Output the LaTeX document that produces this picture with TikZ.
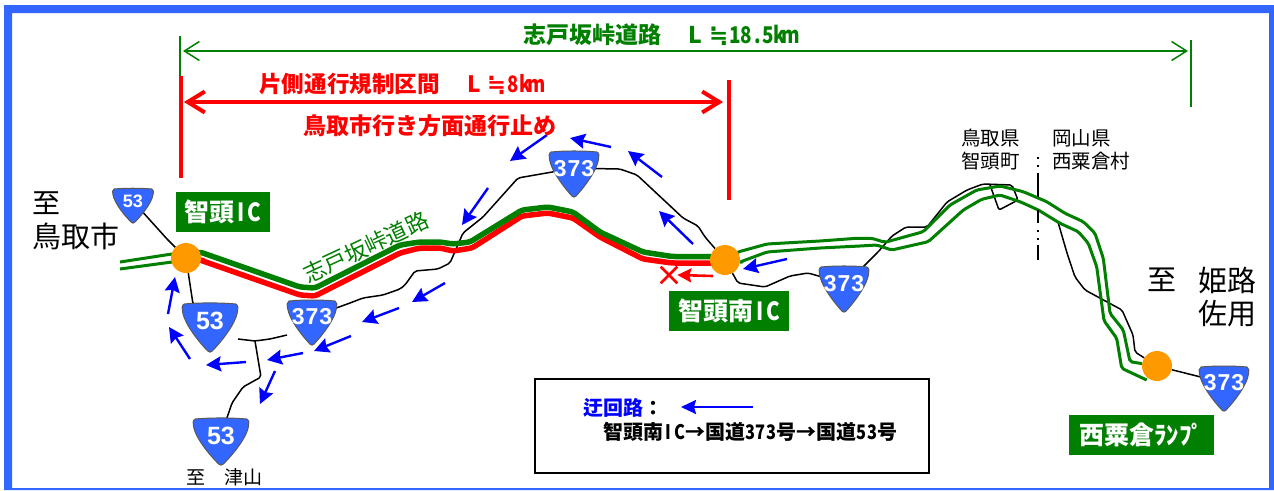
\documentclass[tikz,border=0pt]{standalone}
\usepackage{fontspec}
\setmainfont{Noto Sans CJK JP}
\newfontfamily\digitfont{Liberation Sans}
\newfontfamily\symfont{DejaVu Sans}
\usetikzlibrary{arrows.meta,shapes.misc}
\definecolor{framblue}{HTML}{3366FF}
\definecolor{roadgreen}{HTML}{007F00}
\definecolor{icorange}{HTML}{FF9900}
\pgfdeclarelayer{under}
\pgfsetlayers{under,main}
\newcommand\fs[1]{\fontsize{#1}{#1}\selectfont}
% half-width cell: width in pt, content
\newcommand\hc[2]{\makebox[#1pt]{\scalebox{.82}[1]{#2}}}
\newcommand\approxeq[1]{\makebox[#1pt]{\symfont ≒}}
\tikzset{
  blackroad/.style={draw=black,line width=1.5pt,line join=round,rounded corners=2pt},
  greenbig/.style={draw=roadgreen,line width=5.5pt,line join=round,rounded corners=3pt},
  redbig/.style={draw=red,line width=5.5pt,line join=round,rounded corners=3pt},
  greenthin/.style={draw=roadgreen,line width=3pt,line join=round,rounded corners=2pt},
  detourarrow/.style={draw=blue,line width=2.4pt,-{Stealth[length=15pt,width=15pt,inset=2pt]}},
  icdot/.style={circle,fill=icorange,minimum size=30pt,inner sep=0pt},
  icbox/.style={fill=roadgreen,text=white,font=\bfseries\fs{25},minimum height=40pt,inner sep=0pt},
  shieldtext/.style={text=white,inner sep=0pt},
  label/.style={inner sep=0pt,text=black},
}
% name, centre x, top y, width, height, font size, number
\newcommand\shield[7]{%
  \begin{scope}[shift={(#2,#3)},x=#4pt,y=-#5pt]
    \fill[framblue,draw=black!65,line width=1pt]
      (-.46,0) .. controls (-.2,-.03) and (.2,-.03) .. (.46,0)
      .. controls (.5,.02) and (.51,.1) .. (.49,.16)
      .. controls (.45,.45) and (.15,.85) .. (.04,.98)
      .. controls (.015,1.01) and (-.015,1.01) .. (-.04,.98)
      .. controls (-.15,.85) and (-.45,.45) .. (-.49,.16)
      .. controls (-.51,.1) and (-.5,.02) .. (-.46,0) -- cycle;
    \node[shieldtext,font=\digitfont\bfseries\fs{#6}] (#1) at (0,.36) {#7};
  \end{scope}}
\newcommand\detour[3]{%
  \coordinate (d#1a) at (#2);
  \coordinate (d#1b) at (#3);
  \draw[detourarrow] (d#1a) -- (d#1b);}
\begin{document}
\begin{tikzpicture}[x=1pt,y=-1pt]
\useasboundingbox (0,0) rectangle (1274,490);
\begin{pgfonlayer}{under}
\fill[white] (0,0) rectangle (1274,490);
\fill[framblue,even odd rule] (4,5) rectangle (1274,490) (12,13) rectangle (1269,488);
\end{pgfonlayer}

% interchanges
\node[icdot] (ic1) at (186,258) {};
\node[icdot] (ic2) at (725,260) {};
\node[icdot] (ic3) at (1157,366) {};

% route shields
\shield{s53a}{133}{189}{41}{34}{18}{53}
\shield{s53b}{210}{304}{56}{48}{25}{53}
\shield{s373a}{312}{301}{50}{44}{23}{3\kern1pt7\kern1pt3}
\shield{s53c}{221}{419}{56}{46}{25}{53}
\shield{s373b}{574}{152}{50}{45}{23}{3\kern1pt7\kern1pt3}
\shield{s373c}{844}{267}{50}{45}{23}{3\kern1pt7\kern1pt3}
\shield{s373d}{1224}{367}{50}{44}{23}{3\kern1pt7\kern1pt3}

\begin{pgfonlayer}{under}
% black roads
\draw[blackroad] (s53a) -- (167,239) -- (ic1);
\draw[blackroad] (ic1) -- (193,304) -- (s53b);
\coordinate (jn) at (255,341);
\coordinate (ga) at (238,339);
\coordinate (gb) at (287,335);
\draw[blackroad] (ga) -- (jn) -- (270,339) -- (gb);
\draw[blackroad] (jn) -- (261,377) -- (243,387) -- (232,403) -- (s53c);
\draw[blackroad] (s373a) -- (350,303) -- (363,298) -- (383,295) -- (400,289) -- (405,285) -- (415,271)
  -- (438,269) -- (450,263) -- (463,233) -- (483,217) -- (518,178) -- (s373b);
\draw[blackroad] (s373b) -- (620,169) -- (637,175) -- (667,203) -- (683,218) -- (698,226) -- (705,237) -- (ic2);
\draw[blackroad] (ic2) -- (738,283) -- (765,287) -- (790,276) -- (808,273) -- (s373c);
\draw[blackroad] (s373c) -- (863,267) -- (878,252) -- (892,236) -- (906,227) -- (927,227) -- (947,202)
  -- (967,190) -- (983,184) -- (1012,185) -- (1018,200) -- (999,210) -- (990,185);
\coordinate (kb) at (1058,222);
\draw[blackroad] (kb) -- (1067,253) -- (1075,277) -- (1085,290) -- (1122,310) -- (1133,335) -- (1135,352) -- (ic3);
\draw[blackroad] (ic3) -- (s373d);

% expressway
\draw[redbig] (ic1) -- (200,260) -- (300,295) -- (315,296) -- (400,253) -- (420,248) -- (440,248) -- (453,251)
  -- (472,248) -- (522,216) -- (548,213) -- (573,218) -- (600,237) -- (643,259) -- (672,263) -- (ic2.center |- 0,263);
\draw[greenbig] (ic1) -- (200,252) -- (300,287) -- (315,288) -- (400,245) -- (420,242) -- (440,242) -- (453,244)
  -- (470,242) -- (522,210) -- (548,207) -- (573,212) -- (600,232) -- (643,252) -- (672,256.5) -- (ic2.center |- 0,256.5);
\coordinate (wa) at (120,262);
\coordinate (wb) at (120,269);
\draw[greenthin] (wa) -- (172,254);
\draw[greenthin] (wb) -- (172,262);
\draw[greenthin] (ic2) -- (738,252) -- (767,244) -- (820,241) -- (856.7,238.3) -- (871.7,238.3) -- (885,242.3)
  -- (923.3,231.7) -- (950,205) -- (976.7,190) -- (1000,186) -- (1023.3,191.7) -- (1046.7,201.7) -- (1065,213.3)
  -- (1083.3,221.7) -- (1095,233.3) -- (1103.3,258.3) -- (1110,313.3) -- (1123.3,330) -- (1130,361.7) -- (ic3);
\draw[greenthin] (ic2) -- (740,262) -- (767,252) -- (820,248) -- (860,246) -- (876.7,245) -- (891.7,250)
  -- (928.3,241.7) -- (963.3,210) -- (981.7,199.3) -- (1000,195) -- (1020,201.7) -- (1038.3,210) -- (1060,223.3)
  -- (1078.3,231.7) -- (1088.3,243.3) -- (1096.7,266.7) -- (1104,320.7) -- (1116.7,338.3) -- (1121.7,368.3) -- (1146.7,380);
\end{pgfonlayer}

% prefecture boundary
\coordinate (ba) at (1038,157);
\coordinate (bb) at (1038,260);
\draw[black,line width=1.1pt] (ba) -- (1038,159) (1038,165) -- (1038,167) (1038,173) -- (1038,197)
  (1038,210) -- (1038,223) (1038,230) -- (1038,232) (1038,238) -- (1038,240) (1038,245) -- (bb);

% extent dimensions
\coordinate (g1) at (180,36);
\coordinate (g2) at (180,106);
\coordinate (g3) at (1191,40);
\coordinate (g4) at (1191,107);
\draw[roadgreen,line width=1.3pt] (g1) -- (g2);
\draw[roadgreen,line width=1.3pt] (g3) -- (g4);
\draw[roadgreen,line width=1.5pt,{Straight Barb[length=15pt,width=19pt]}-{Straight Barb[length=15pt,width=19pt]}] (183,51) -- (1188,51);
\coordinate (r1) at (181,76);
\coordinate (r2) at (181,178);
\coordinate (r3) at (729,80);
\coordinate (r4) at (729,200);
\draw[red,line width=3.6pt] (r1) -- (r2);
\draw[red,line width=3.6pt] (r3) -- (r4);
\draw[red,line width=4pt,{Straight Barb[length=17pt,width=21pt]}-{Straight Barb[length=17pt,width=21pt]}] (184,102) -- (723,102);

% detour arrows
\detour{1}{168,314}{175,277}
\detour{2}{190,359}{169,327}
\detour{3}{246,362}{206,365}
\detour{4}{303,353}{267,360}
\detour{5}{275,371}{260,404}
\detour{6}{351,336}{314,351}
\detour{7}{399,308}{362,322}
\detour{8}{445,283}{412,302}
\detour{9}{488,188}{462,225}
\detour{10}{547,135}{510,161}
\detour{11}{611,147}{570,138}
\detour{12}{662,177}{628,151}
\detour{13}{693,244}{659,211}
\detour{14}{787,259}{743,269}

% closed section mark
\node[cross out,draw=red,line width=2.6pt,minimum size=14pt,inner sep=0pt] (stop) at (669,275) {};
\coordinate (stopa) at (713,276);
\draw[red,line width=2.6pt,-{Stealth[length=14pt,width=14pt,inset=2pt]}] (stopa) -- (stop.east);

% titles
\node[label,anchor=west,text=roadgreen,font=\bfseries\fs{23}] (title) at (523,35) {志戸坂峠道路　\makebox[23pt]{L}\approxeq{23}\hc{11}{1}\hc{11}{8}\hc{11}{.}\hc{11}{5}\hc{11}{k}\hc{11}{m}};
\node[label,anchor=west,text=red,font=\bfseries\fs{22.6}] (restr) at (259,84) {片側通行規制区間　\makebox[22.6pt]{L}\approxeq{22.6}\hc{11.5}{8}\hc{11.5}{k}\hc{11.5}{m}};
\node[label,text=red,font=\bfseries\fs{23}] (closed) at (430,126) {鳥取市行き方面通行止め};
\node[label,text=roadgreen,font=\fs{22.5},rotate=25] (roadname) at (366,247) {志戸坂峠道路};

% place names
\node[label,anchor=west,font=\fs{28}] (to1) at (32,203) {至};
\node[label,anchor=west,font=\fs{29}] (to2) at (32,236) {鳥取市};
\node[label,anchor=west,font=\fs{19}] (to3) at (186,477) {至　津山};
\node[label,anchor=west,font=\fs{29}] (to4) at (1147,280) {至};
\node[label,anchor=west,font=\fs{29}] (to5) at (1198,280) {姫路};
\node[label,anchor=west,font=\fs{29}] (to6) at (1198,314) {佐用};
\node[label,anchor=west,align=left,font=\fs{19.5}] (pref1) at (961,150) {鳥取県\\[3.5pt]智頭町};
\node[label,anchor=west,align=left,font=\fs{19.5}] (pref2) at (1052,150) {岡山県\\[3.5pt]西粟倉村};

% interchange labels
\node[icbox,minimum width=94pt] (lab1) at (223,212) {智頭\hc{13.5}{I}\hc{13.5}{C}};
\node[icbox,minimum width=120pt] (lab2) at (729,311) {智頭南\hc{13.5}{I}\hc{13.5}{C}};
\node[icbox,minimum width=145pt] (lab3) at (1141.5,435) {西粟倉ﾗﾝﾌﾟ};

% legend
\node[draw=black,line width=1.6pt,minimum width=394pt,minimum height=94pt,inner sep=0pt] (legend) at (732,426) {};
\node[label,anchor=west,font=\bfseries\fs{20}] (leg1) at (583,408) {\textcolor{blue}{迂回路}：};
\node[label,anchor=west,font=\bfseries\fs{20}] (leg2) at (603,432) {智頭南\hc{11}{I}\hc{11}{C}→国道\hc{10.5}{3}\hc{10.5}{7}\hc{10.5}{3}号→国道\hc{10.5}{5}\hc{10.5}{3}号};
\coordinate (lega) at (753,407);
\coordinate (legb) at (681,407);
\draw[draw=blue,line width=2.2pt,-{Stealth[length=15pt,width=14pt,inset=2pt]}] (lega) -- (legb);
\end{tikzpicture}
\end{document}
